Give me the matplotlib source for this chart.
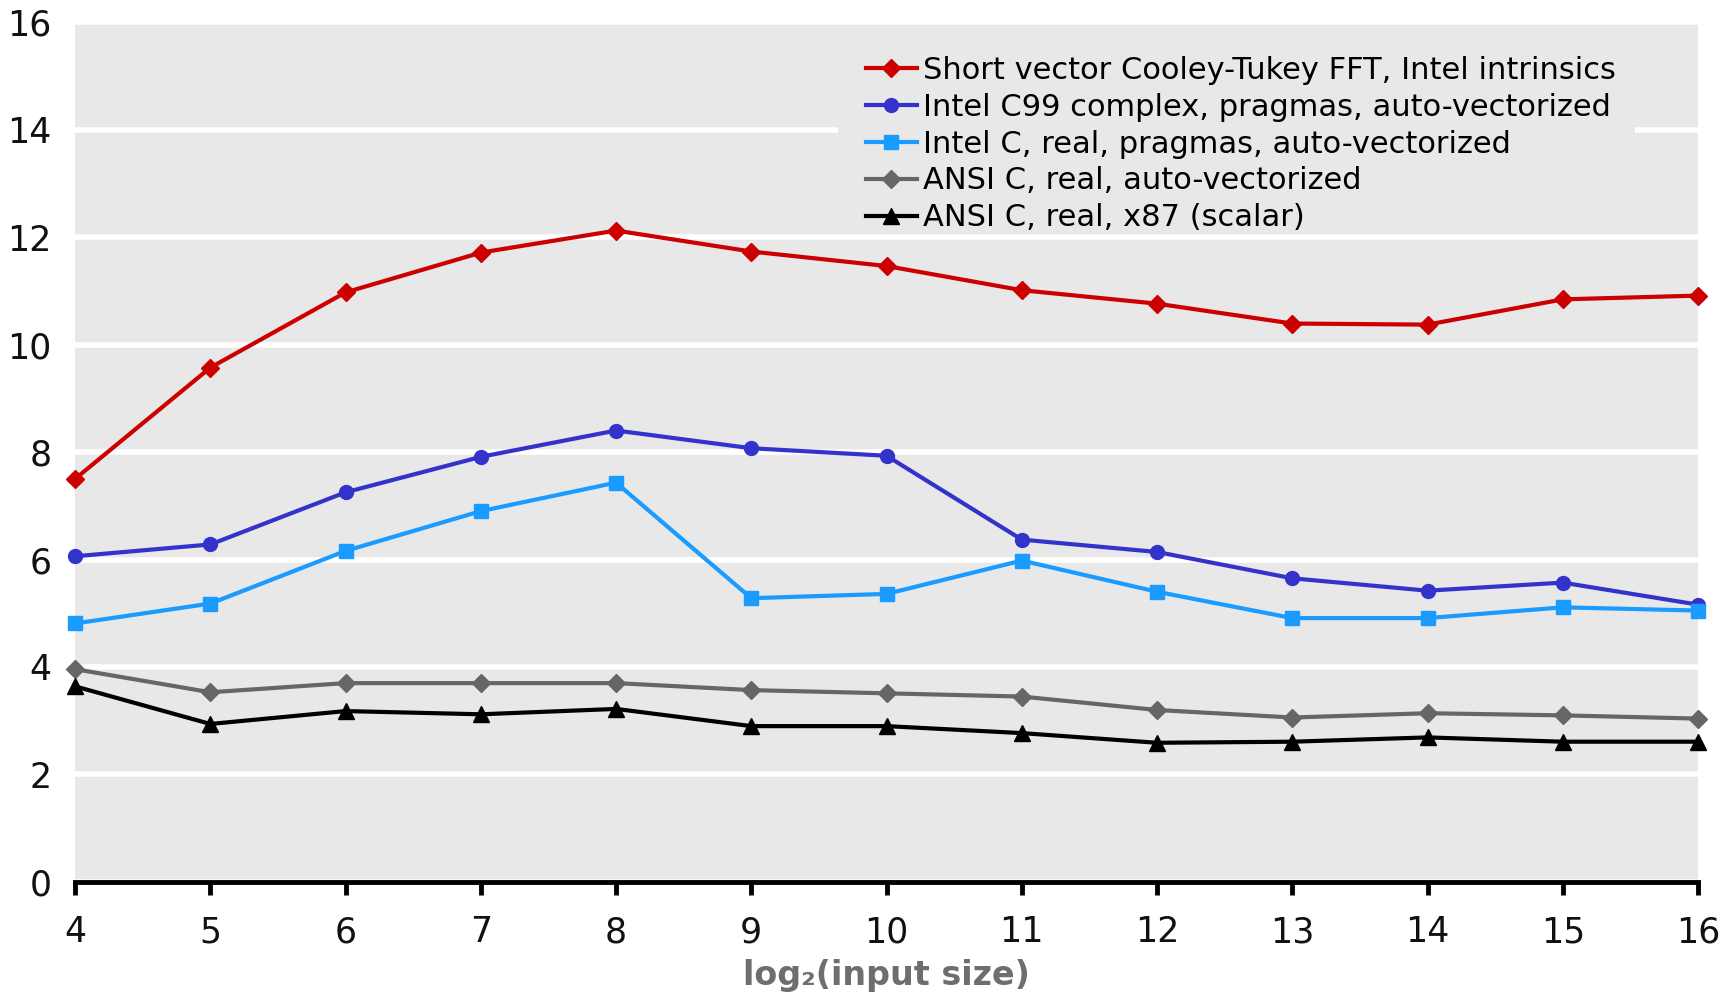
import matplotlib
matplotlib.use("Agg")
import matplotlib.pyplot as plt
from matplotlib.patches import Rectangle

x = [4, 5, 6, 7, 8, 9, 10, 11, 12, 13, 14, 15, 16]
labels = [
    "Short vector Cooley-Tukey FFT, Intel intrinsics",
    "Intel C99 complex, pragmas, auto-vectorized",
    "Intel C, real, pragmas, auto-vectorized",
    "ANSI C, real, auto-vectorized",
    "ANSI C, real, x87 (scalar)",
]
red_vals = [7.50, 9.57, 10.97, 11.71, 12.12, 11.73, 11.46, 11.01, 10.76, 10.39, 10.37, 10.84, 10.91]
blue_vals = [6.06, 6.28, 7.25, 7.91, 8.40, 8.07, 7.93, 6.37, 6.14, 5.65, 5.42, 5.57, 5.16]
lblue_vals = [4.81, 5.18, 6.16, 6.90, 7.43, 5.28, 5.36, 5.98, 5.40, 4.91, 4.91, 5.11, 5.05]
gray_vals = [3.96, 3.53, 3.70, 3.70, 3.70, 3.57, 3.51, 3.45, 3.20, 3.06, 3.14, 3.10, 3.04]
black_vals = [3.64, 2.94, 3.18, 3.12, 3.22, 2.90, 2.90, 2.77, 2.59, 2.61, 2.69, 2.61, 2.61]
yticks = [0, 2, 4, 6, 8, 10, 12, 14, 16]

series = [
    (red_vals, "#cc0000", "D", 9),
    (blue_vals, "#3333cc", "o", 10),
    (lblue_vals, "#1a9bff", "s", 9.5),
    (gray_vals, "#666666", "D", 9),
    (black_vals, "#000000", "^", 11),
]

BG = "#e8e8e8"
fig = plt.figure(figsize=(17.3, 9.92), dpi=100)
ax = fig.add_axes([0.0434, 0.1109, 0.9381, 0.8669])
ax.set_facecolor(BG)

for (vals, col, mk, ms), lab in zip(series, labels):
    ax.plot(x, vals, color=col, lw=3, marker=mk, ms=ms, mec=col, mfc=col, label=lab,
            clip_on=False, zorder=3)

ax.set_xlim(4, 16)
ax.set_ylim(0, 16)
ax.set_yticks(yticks)
ax.set_xticks(x)
ax.yaxis.grid(True, color="white", lw=4)
ax.set_axisbelow(True)
for s in ["left", "right", "top"]:
    ax.spines[s].set_visible(False)
ax.spines["bottom"].set_linewidth(3.5)
ax.spines["bottom"].set_zorder(4)
ax.tick_params(axis="y", length=0, pad=17, labelsize=25, labelcolor="#111111")
ax.tick_params(axis="x", length=9, width=3.5, pad=15, labelsize=25, labelcolor="#111111")
for t in ax.get_xticklabels() + ax.get_yticklabels():
    t.set_fontfamily("DejaVu Sans")
ax.set_xlabel("log\u2082(input size)", fontsize=24, fontweight="bold", color="#6e6e6e",
              labelpad=7, family="DejaVu Sans")

# legend background panel (same colour as plot area, hides gridline)
ax.add_patch(Rectangle((0.470, 0.79), 0.491, 0.20, transform=ax.transAxes,
                       facecolor=BG, edgecolor="none", zorder=2))

leg = ax.legend(loc="upper left", bbox_to_anchor=(0.4837, 0.968), frameon=False,
                prop={"family": "DejaVu Sans", "size": 22},
                handlelength=1.65, handletextpad=0.2, labelspacing=0.26, borderpad=0.2,
                borderaxespad=0)

fig.savefig("out.png", dpi=100)
